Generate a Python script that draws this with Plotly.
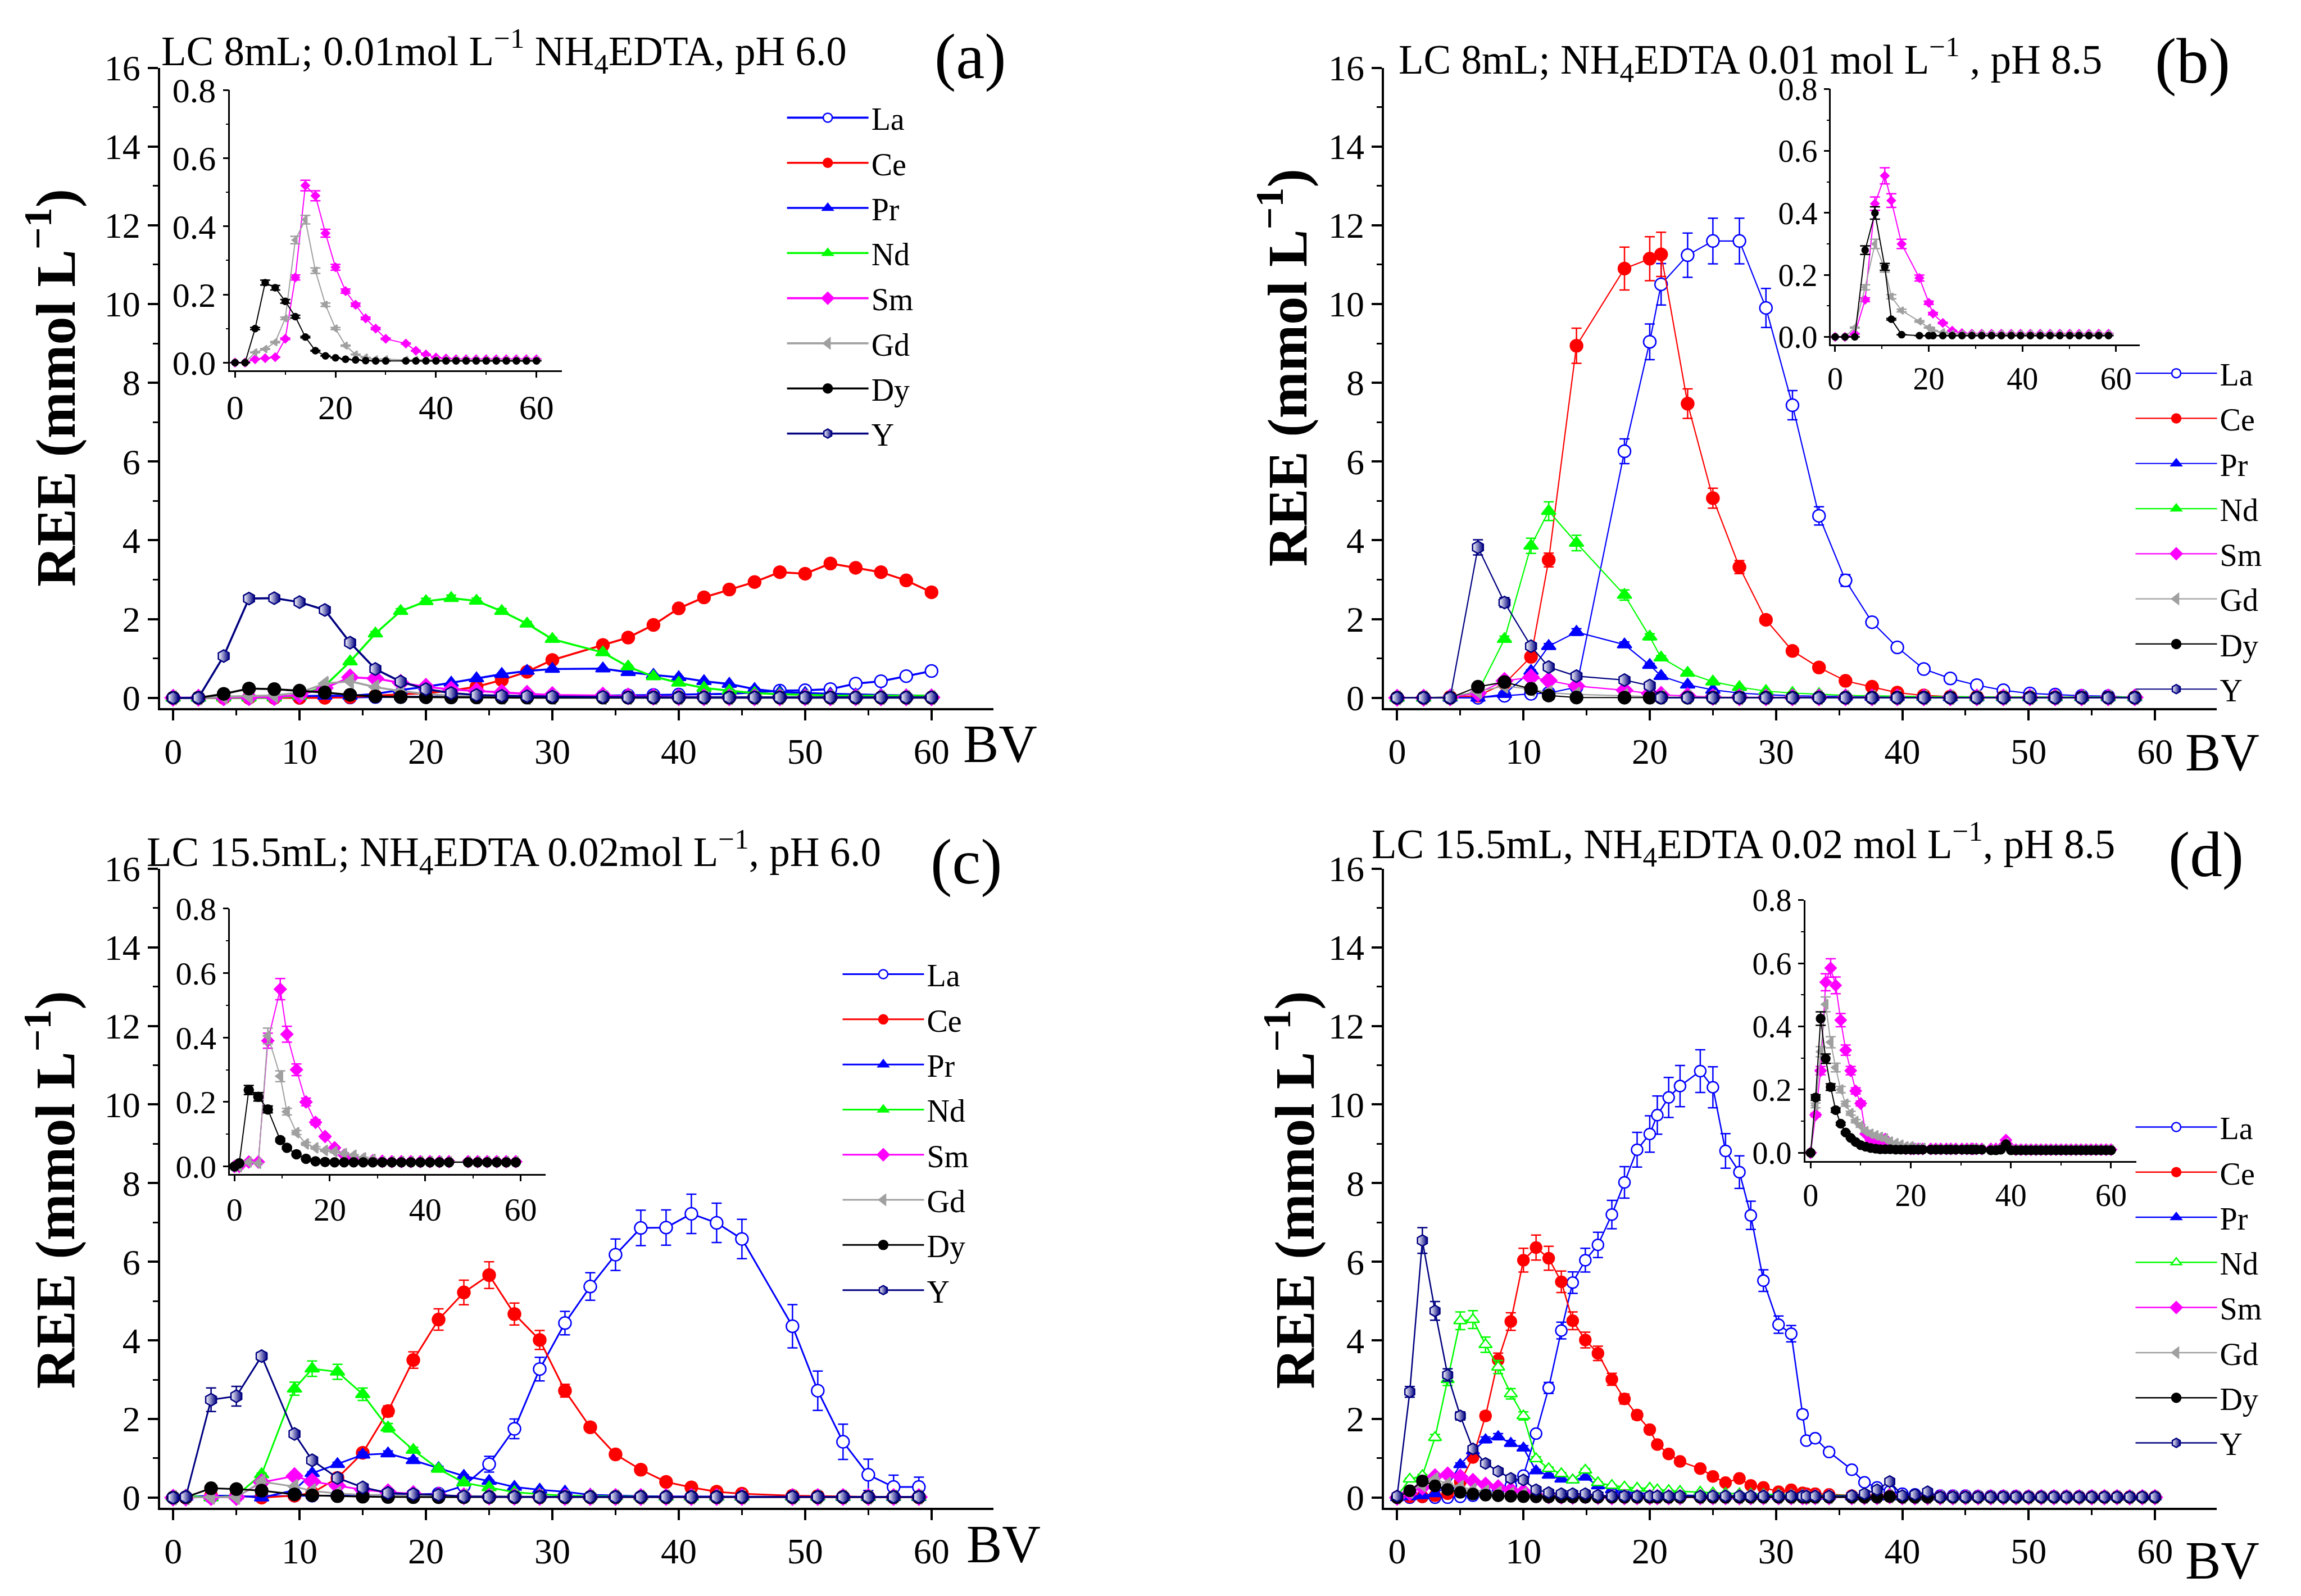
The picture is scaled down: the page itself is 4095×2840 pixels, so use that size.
import plotly.graph_objects as go

# ---------------- panel (a): LC 8 mL, 0.01 mol/L NH4EDTA, pH 6.0 ----------------
bv_a = [0, 2, 4, 6, 8, 10, 12, 14, 16, 18, 20, 22, 24, 26, 28, 30, 34, 36, 38, 40,
        42, 44, 46, 48, 50, 52, 54, 56, 58, 60]
la_a = [0, 0, 0, 0, 0, 0, 0.01, 0.01, 0.02, 0.02, 0.02, 0.03, 0.03, 0.03, 0.03, 0.04,
        0.05, 0.06, 0.07, 0.08, 0.09, 0.1, 0.14, 0.18, 0.19, 0.22, 0.36, 0.42, 0.55, 0.68]
ce_a = [0, 0, 0, 0, 0, 0, 0, 0.02, 0.05, 0.08, 0.12, 0.18, 0.28, 0.45, 0.66, 0.96,
        1.34, 1.53, 1.85, 2.27, 2.55, 2.75, 2.94, 3.19, 3.15, 3.41, 3.3, 3.19, 2.98, 2.68]
pr_a = [0, 0, 0.02, 0.03, 0.03, 0.04, 0.05, 0.05, 0.1, 0.2, 0.28, 0.38, 0.49, 0.6, 0.68, 0.73,
        0.74, 0.65, 0.58, 0.52, 0.42, 0.35, 0.22, 0.15, 0.12, 0.1, 0.08, 0.07, 0.06, 0.05]
nd_a = [0, 0, 0, 0, 0, 0.05, 0.3, 0.92, 1.63, 2.2, 2.45, 2.53, 2.46, 2.2, 1.88, 1.49,
        1.15, 0.79, 0.54, 0.38, 0.25, 0.18, 0.12, 0.09, 0.07, 0.06, 0.05, 0.05, 0.05, 0.05]
sm_a = [0, 0, 0.01, 0.013, 0.016, 0.07, 0.25, 0.52, 0.49, 0.38, 0.28, 0.21, 0.17, 0.13, 0.1, 0.07,
        0.056, 0.035, 0.024, 0.015, 0.012, 0.01, 0.01, 0.01, 0.01, 0.01, 0.01, 0.01, 0.01, 0.01]
gd_a = [0, 0, 0.03, 0.04, 0.06, 0.13, 0.36, 0.42, 0.27, 0.17, 0.1, 0.05, 0.024, 0.015, 0.01, 0.01,
        0.008, 0.008, 0.008, 0.008, 0.008, 0.008, 0.008, 0.008, 0.008, 0.008, 0.008, 0.008, 0.008, 0.008]
dy_a = [0, 0, 0.1, 0.235, 0.22, 0.18, 0.135, 0.075, 0.035, 0.02, 0.014, 0.01, 0.008, 0.006, 0.005, 0.005,
        0.005, 0.005, 0.005, 0.005, 0.005, 0.005, 0.005, 0.005, 0.005, 0.005, 0.005, 0.005, 0.005, 0.005]
y_a = [0, 0, 1.06, 2.52, 2.53, 2.43, 2.23, 1.4, 0.73, 0.41, 0.22, 0.12, 0.07, 0.05, 0.04, 0.03,
       0.02, 0.01, 0.01, 0.01, 0.01, 0.01, 0.01, 0.01, 0.01, 0.01, 0.01, 0.01, 0.01, 0.01]

# ---------------- panel (b): LC 8 mL, NH4EDTA 0.01 mol/L, pH 8.5 ----------------
bv_b = [0, 2.1, 4.2, 6.4, 8.5, 10.6, 12.0, 14.2, 18.0, 20.0, 20.9, 23.0, 25.0, 27.1, 29.2,
        31.3, 33.4, 35.5, 37.6, 39.6, 41.7, 43.8, 45.9, 48.0, 50.1, 52.1, 54.2, 56.3, 58.4]
la_b = [0, 0, 0, 0, 0.05, 0.1, 0.12, 0.27, 6.26, 9.04, 10.5, 11.24, 11.6, 11.6, 9.9,
        7.43, 4.62, 2.98, 1.92, 1.28, 0.73, 0.49, 0.32, 0.19, 0.11, 0.08, 0.05, 0.04, 0.01]
ce_b = [0, 0, 0.02, 0.05, 0.36, 1.04, 3.5, 8.94, 10.9, 11.15, 11.26, 7.47, 5.07, 3.32, 1.98,
        1.19, 0.77, 0.43, 0.28, 0.13, 0.06, 0.03, 0.02, 0.02, 0.01, 0.01, 0.01, 0.01, 0.01]
pr_b = [0, 0, 0, 0, 0.09, 0.68, 1.31, 1.67, 1.35, 0.83, 0.55, 0.33, 0.2, 0.12, 0.08,
        0.05, 0.04, 0.03, 0.02, 0.02, 0.02, 0.01, 0.01, 0.01, 0.01, 0.01, 0.01, 0.01, 0.01]
nd_b = [0, 0, 0.02, 0.15, 1.49, 3.86, 4.74, 3.93, 2.61, 1.55, 1.02, 0.63, 0.41, 0.27, 0.17,
        0.12, 0.09, 0.06, 0.05, 0.04, 0.03, 0.03, 0.02, 0.02, 0.02, 0.02, 0.02, 0.02, 0.02]
sm_b = [0, 0, 0.01, 0.12, 0.43, 0.52, 0.44, 0.3, 0.19, 0.11, 0.075, 0.045, 0.02, 0.012, 0.01,
        0.01, 0.01, 0.01, 0.01, 0.01, 0.01, 0.01, 0.01, 0.01, 0.01, 0.01, 0.01, 0.01, 0.01]
gd_b = [0, 0, 0.03, 0.16, 0.3, 0.22, 0.13, 0.085, 0.05, 0.03, 0.02, 0.015, 0.01, 0.01, 0.01,
        0.01, 0.01, 0.01, 0.01, 0.01, 0.01, 0.01, 0.01, 0.01, 0.01, 0.01, 0.01, 0.01, 0.01]
dy_b = [0, 0, 0, 0.28, 0.4, 0.226, 0.057, 0.007, 0.004, 0.004, 0.004, 0.004, 0.004, 0.004, 0.004,
        0.004, 0.004, 0.004, 0.004, 0.004, 0.004, 0.004, 0.004, 0.004, 0.004, 0.004, 0.004, 0.004, 0.004]
y_b = [0, 0, 0, 3.82, 2.42, 1.31, 0.78, 0.55, 0.45, 0.31, 0, 0, 0, 0, 0,
       0, 0, 0, 0, 0, 0, 0, 0, 0, 0, 0, 0, 0, 0]

# ---------------- panel (c): LC 15.5 mL, NH4EDTA 0.02 mol/L, pH 6.0 ----------------
bv_c = [0, 1, 3, 5, 7, 9.6, 11, 13, 15, 17, 19, 21, 23, 25, 27, 29, 31, 33, 35, 37,
        39, 41, 43, 45, 49, 51, 53, 55, 57, 59]
la_c = [0, 0, 0.02, 0.03, 0.03, 0.05, 0.05, 0.05, 0.06, 0.06, 0.08, 0.1, 0.3, 0.85, 1.75, 3.27,
        4.44, 5.37, 6.18, 6.86, 6.87, 7.22, 6.99, 6.58, 4.36, 2.72, 1.42, 0.58, 0.27, 0.27]
la_c_err = [0, 0, 0, 0, 0, 0, 0, 0, 0, 0, 0, 0, 0.05, 0.2, 0.25, 0.3,
            0.3, 0.35, 0.4, 0.45, 0.45, 0.5, 0.5, 0.5, 0.55, 0.5, 0.45, 0.4, 0.3, 0.25]
ce_c = [0, 0, 0.05, 0.05, 0, 0.05, 0.12, 0.5, 1.14, 2.2, 3.5, 4.53, 5.22, 5.66, 4.67, 4.01,
        2.72, 1.79, 1.1, 0.71, 0.4, 0.26, 0.15, 0.1, 0.05, 0.04, 0.02, 0.02, 0.01, 0.01]
pr_c = [0.02, 0.02, 0.05, 0.05, 0, 0.19, 0.62, 0.85, 1.09, 1.12, 0.95, 0.75, 0.55, 0.42, 0.27, 0.2,
        0.15, 0.07, 0.05, 0.04, 0.03, 0.03, 0.02, 0.02, 0.02, 0.02, 0.01, 0.01, 0.01, 0.01]
nd_c = [0.02, 0.05, 0, 0.05, 0.59, 2.77, 3.28, 3.2, 2.63, 1.78, 1.21, 0.73, 0.38, 0.26, 0.14, 0.09,
        0.05, 0.04, 0.03, 0.03, 0.02, 0.02, 0.02, 0.02, 0.02, 0.02, 0.02, 0.02, 0.02, 0.02]
sm_c = [0, 0, 0.014, 0.014, 0.39, 0.55, 0.41, 0.3, 0.2, 0.137, 0.093, 0.058, 0.035, 0.025, 0.02, 0.018,
        0.016, 0.015, 0.015, 0.015, 0.015, 0.015, 0.015, 0.015, 0.015, 0.015, 0.015, 0.015, 0.015, 0.015]
gd_c = [0, 0, 0.014, 0.01, 0.405, 0.28, 0.17, 0.105, 0.07, 0.058, 0.05, 0.046, 0.04, 0.035, 0.027, 0.022,
        0.015, 0.015, 0.015, 0.015, 0.015, 0.015, 0.015, 0.015, 0.015, 0.015, 0.015, 0.015, 0.015, 0.015]
dy_c = [0, 0.01, 0.237, 0.216, 0.177, 0.082, 0.058, 0.038, 0.024, 0.016, 0.014, 0.013, 0.013, 0.013, 0.013,
        0.013, 0.013, 0.013, 0.013, 0.013, 0.013, 0.013, 0.013, 0.013, 0.013, 0.013, 0.013, 0.013, 0.013, 0.013]
y_c = [0, 0.02, 2.49, 2.58, 3.6, 1.62, 0.95, 0.5, 0.26, 0.12, 0.09, 0.07, 0.03, 0.02, 0.02, 0.02,
       0.02, 0.02, 0.02, 0.02, 0.02, 0.02, 0.02, 0.02, 0.02, 0.02, 0.02, 0.02, 0.02, 0.02]
y_c_err = [0, 0, 0.3, 0.25, 0.1, 0.08, 0.08, 0.05, 0, 0, 0, 0, 0, 0, 0, 0,
           0, 0, 0, 0, 0, 0, 0, 0, 0, 0, 0, 0, 0, 0]

# ---------------- panel (d): LC 15.5 mL, NH4EDTA 0.02 mol/L, pH 8.5 ----------------
bv_d = [0, 1, 2, 3, 4, 5, 6, 7, 8, 9, 10, 11, 12, 13, 13.9, 14.9, 15.9, 17, 18, 19, 20,
        20.6, 21.5, 22.4, 24, 25, 26, 27.1, 28, 29, 30.2, 31.2, 32.1, 32.4, 33.1, 34.2,
        36, 37, 38, 39, 40, 41, 42, 43, 44, 45, 46, 47, 48, 49, 50, 51, 52, 53, 54, 55,
        56, 57, 58, 59, 60]
la_d = [0, 0, 0.02, 0, 0, 0.02, 0.05, 0.1, 0.2, 0.3, 0.56, 1.63, 2.79, 4.25, 5.47, 6.04, 6.43,
        7.2, 8.02, 8.85, 9.25, 9.73, 10.18, 10.47, 10.85, 10.44, 8.82, 8.28, 7.18, 5.52,
        4.4, 4.17, 2.12, 1.45, 1.51, 1.16, 0.71, 0.39, 0.26, 0.16, 0.1, 0.08, 0.06, 0.05,
        0.05, 0.05, 0.04, 0.04, 0.04, 0.04, 0.03, 0.03, 0.03, 0.03, 0.03, 0.03, 0.02, 0.02,
        0.02, 0.02, 0.02]
ce_d = [0.02, 0.02, 0.02, 0.05, 0.1, 0.4, 1.02, 2.08, 3.5, 4.48, 6.04, 6.36, 6.09, 5.49, 4.5,
        4.01, 3.67, 3.01, 2.51, 2.1, 1.73, 1.35, 1.11, 0.92, 0.74, 0.54, 0.38, 0.49, 0.31, 0.26,
        0.15, 0.2, 0.12, 0.1, 0.1, 0.08, 0.05, 0.04, 0.03, 0.03, 0.02, 0.02, 0.02, 0.02, 0.02,
        0.02, 0.02, 0.02, 0.02, 0.02, 0.02, 0.02, 0.02, 0.02, 0.02, 0.02, 0.02, 0.02, 0.02,
        0.02, 0.02]
pr_d = [0, 0.02, 0.05, 0.1, 0.3, 0.84, 1.19, 1.47, 1.55, 1.38, 1.26, 0.68, 0.57, 0.47, 0.45,
        0.52, 0.3, 0.2, 0.15, 0.12, 0.1, 0.08, 0.07, 0.06, 0.05, 0.05, 0.04, 0.04, 0.04, 0.03,
        0.03, 0.03, 0.03, 0.03, 0.03, 0.03, 0.02, 0.02, 0.02, 0.02, 0.02, 0.02, 0.02, 0.02,
        0.02, 0.02, 0.02, 0.02, 0.02, 0.02, 0.02, 0.02, 0.02, 0.02, 0.02, 0.02, 0.02, 0.02,
        0.02, 0.02, 0.02]
nd_d = [0.03, 0.47, 0.56, 1.53, 3.0, 4.5, 4.53, 3.89, 3.32, 2.64, 2.08, 0.99, 0.74, 0.61, 0.45,
        0.7, 0.38, 0.31, 0.27, 0.24, 0.24, 0.2, 0.18, 0.16, 0.14, 0.12, 0.11, 0.1, 0.09, 0.08,
        0.08, 0.07, 0.07, 0.06, 0.06, 0.06, 0.05, 0.05, 0.05, 0.1, 0.04, 0.04, 0.04, 0.04,
        0.04, 0.04, 0.04, 0.04, 0.04, 0.04, 0.04, 0.04, 0.04, 0.04, 0.04, 0.04, 0.04, 0.04,
        0.04, 0.04, 0.04]
sm_d = [0, 0.12, 0.26, 0.54, 0.585, 0.53, 0.42, 0.325, 0.26, 0.196, 0.156, 0.06, 0.04, 0.03,
        0.025, 0.043, 0.02, 0.015, 0.015, 0.013, 0.012, 0.012, 0.012, 0.012, 0.012, 0.012,
        0.012, 0.012, 0.012, 0.012, 0.012, 0.012, 0.012, 0.012, 0.012, 0.012, 0.012, 0.012,
        0.015, 0.04, 0.015, 0.01, 0.01, 0.01, 0.01, 0.01, 0.01, 0.01, 0.01, 0.01, 0.01, 0.01,
        0.01, 0.01, 0.01, 0.01, 0.01, 0.01, 0.01, 0.01, 0.01]
gd_d = [0, 0.15, 0.32, 0.47, 0.35, 0.27, 0.2, 0.155, 0.125, 0.1, 0.085, 0.068, 0.06, 0.055,
        0.05, 0.045, 0.035, 0.03, 0.025, 0.02, 0.02, 0.015, 0.015, 0.015, 0.012, 0.012, 0.012,
        0.012, 0.012, 0.012, 0.012, 0.012, 0.012, 0.012, 0.012, 0.012, 0.01, 0.01, 0.015, 0.03,
        0.01, 0.01, 0.01, 0.01, 0.01, 0.01, 0.01, 0.01, 0.01, 0.01, 0.01, 0.01, 0.01, 0.01,
        0.01, 0.01, 0.01, 0.01, 0.01, 0.01, 0.01]
dy_d = [0, 0.175, 0.425, 0.298, 0.208, 0.135, 0.092, 0.064, 0.047, 0.034, 0.024, 0.019, 0.015,
        0.013, 0.011, 0.011, 0.011, 0.01, 0.01, 0.01, 0.01, 0.01, 0.01, 0.01, 0.01, 0.01, 0.01,
        0.01, 0.01, 0.01, 0.01, 0.01, 0.01, 0.01, 0.01, 0.01, 0.008, 0.008, 0.01, 0.027, 0.008,
        0.008, 0.008, 0.008, 0.008, 0.008, 0.008, 0.008, 0.008, 0.008, 0.008, 0.008, 0.008,
        0.008, 0.008, 0.008, 0.008, 0.008, 0.008, 0.008, 0.008]
y_d = [0.04, 2.69, 6.54, 4.75, 3.12, 2.08, 1.24, 0.87, 0.67, 0.49, 0.45, 0.2, 0.13, 0.1, 0.1,
       0.1, 0.06, 0.04, 0.04, 0.04, 0.04, 0.04, 0.04, 0.04, 0.04, 0.04, 0.04, 0.04, 0.04, 0.04,
       0.04, 0.04, 0.04, 0.04, 0.04, 0.04, 0.05, 0.1, 0.2, 0.41, 0.05, 0.08, 0.15, 0.02, 0.02,
       0.02, 0.02, 0.02, 0.02, 0.02, 0.02, 0.02, 0.02, 0.02, 0.02, 0.02, 0.02, 0.02, 0.02,
       0.02, 0.02]

FONT = "Liberation Serif"
W, H = 4095, 2840
X_OFF = 8                     # default body margin of the html page
Y_SCALE, Y_OFF = 1.0192, -45.3  # vertical correction found by comparing renders
NAVY = "#000080"

# marker / colour per element: (line colour, symbol, fill)
STYLE = {
    "La": ("#0000FF", "circle", "white"),
    "Ce": ("#FF0000", "circle", "#FF0000"),
    "Pr": ("#0000FF", "triangle-up", "#0000FF"),
    "Nd": ("#00FF00", "triangle-up", "#00FF00"),
    "Sm": ("#FF00FF", "diamond", "#FF00FF"),
    "Gd": ("#A0A0A0", "triangle-left", "#A0A0A0"),
    "Dy": ("#000000", "circle", "#000000"),
    "Y": (NAVY, "hexagon", "white"),
}


def px_x(p):
    return (p - X_OFF) / W


def px_y(p):
    return 1 - (Y_SCALE * p + Y_OFF) / H


def make_trace(name, bv, vals, xa, ya, lw, ms, err, legend=None, nd_open=False, show=True):
    col, sym, fill = STYLE[name]
    if name == "Nd" and nd_open:
        fill = "white"
    marker = dict(symbol=sym, size=ms, color=fill, line=dict(color=col, width=2.5))
    if name == "Y":
        marker["gradient"] = dict(type="horizontal", color=NAVY)
    if isinstance(err, list):
        ey = dict(type="data", array=err, color=col, thickness=2.5, width=9)
    else:
        ey = dict(type="percent", value=err, color=col, thickness=2.5, width=9)
    tr = go.Scatter(x=bv, y=vals, mode="lines+markers", name=name,
                    line=dict(color=col, width=lw), marker=marker, error_y=ey,
                    xaxis=xa, yaxis=ya, showlegend=show, cliponaxis=False)
    if show:
        tr.update(legend=legend, legendgroup=legend + name)
    return tr


fig = go.Figure()

panels = [
    # bv, series, line width, marker size, inset marker size, error %, explicit errors, open Nd
    (bv_a, {"La": la_a, "Ce": ce_a, "Pr": pr_a, "Nd": nd_a, "Sm": sm_a, "Gd": gd_a, "Dy": dy_a, "Y": y_a},
     3.6, 22, 11, 3, {}, False),
    (bv_b, {"La": la_b, "Ce": ce_b, "Pr": pr_b, "Nd": nd_b, "Sm": sm_b, "Gd": gd_b, "Dy": dy_b, "Y": y_b},
     2.2, 22, 11, 5, {}, False),
    (bv_c, {"La": la_c, "Ce": ce_c, "Pr": pr_c, "Nd": nd_c, "Sm": sm_c, "Gd": gd_c, "Dy": dy_c, "Y": y_c},
     3, 22, 16, 6, {"La": la_c_err, "Y": y_c_err}, False),
    (bv_d, {"La": la_d, "Ce": ce_d, "Pr": pr_d, "Nd": nd_d, "Sm": sm_d, "Gd": gd_d, "Dy": dy_d, "Y": y_d},
     2.5, 20, 15, 5, {}, True),
]
legend_names = ["legend", "legend2", "legend3", "legend4"]

for k, (bv, series, lw, ms, ims, err, errs, nd_open) in enumerate(panels):
    mi, ii = 2 * k + 1, 2 * k + 2
    mx = "x" if mi == 1 else "x%d" % mi
    my = "y" if mi == 1 else "y%d" % mi
    for name, vals in series.items():
        fig.add_trace(make_trace(name, bv, vals, mx, my, lw, ms, errs.get(name, err),
                                 legend=legend_names[k], nd_open=nd_open))
    for name in ["Sm", "Gd", "Dy"]:
        fig.add_trace(make_trace(name, bv, series[name], "x%d" % ii, "y%d" % ii,
                                 2, ims, err, show=False))

# ---------------- axes (pixel boxes measured on the reference) ----------------
col_x = [(278, 1764), (2460, 3945)]
row_y = [(1262, 122), (2686, 1548)]
inset_box = [  # left, right, bottom, top, x range, y bottom, tick font
    (403, 995, 661, 162, [-1.0, 65.1], -0.023, 62),
    (3257, 3807, 615, 160, [-0.9, 65.0], -0.025, 56),
    (403, 966, 2092, 1619, [-0.94, 65.3], -0.024, 58),
    (3211, 3801, 2069, 1604, [-1.1, 65.0], -0.027, 56),
]

axis_common = dict(showline=True, linecolor="black", showgrid=False, zeroline=False,
                   ticks="outside", tickcolor="black", mirror=False,
                   tickfont=dict(family=FONT, size=64, color="black"))

for k in range(4):
    mi, ii = 2 * k + 1, 2 * k + 2
    cx = col_x[k % 2]
    ry = row_y[k // 2]
    xname = "xaxis" if mi == 1 else "xaxis%d" % mi
    yname = "yaxis" if mi == 1 else "yaxis%d" % mi
    fig.update_layout({
        xname: dict(axis_common, domain=[px_x(cx[0]), px_x(cx[1])], range=[-1.05, 64.9],
                    anchor="y" if mi == 1 else "y%d" % mi, tickmode="linear", tick0=0, dtick=10,
                    linewidth=4, ticklen=18, tickwidth=3.5,
                    minor=dict(ticks="outside", ticklen=9, tickwidth=3, dtick=5, tick0=0,
                               tickcolor="black", showgrid=False)),
        yname: dict(axis_common, domain=[px_y(ry[0]), px_y(ry[1])], range=[-0.26, 16],
                    anchor="x" if mi == 1 else "x%d" % mi, tickmode="linear", tick0=0, dtick=2,
                    linewidth=4, ticklen=18, tickwidth=3.5,
                    minor=dict(ticks="outside", ticklen=9, tickwidth=3, dtick=1, tick0=0,
                               tickcolor="black", showgrid=False)),
    })
    l, r, b, t, xr, yb, tf = inset_box[k]
    fig.update_layout({
        "xaxis%d" % ii: dict(axis_common, domain=[px_x(l), px_x(r)], range=xr,
                             anchor="y%d" % ii, tickmode="linear", tick0=0, dtick=20,
                             linewidth=2.5, ticklen=10, tickwidth=2.5,
                             tickfont=dict(family=FONT, size=tf, color="black"),
                             minor=dict(ticks="outside", ticklen=5, tickwidth=2, dtick=10, tick0=0,
                                        tickcolor="black", showgrid=False)),
        "yaxis%d" % ii: dict(axis_common, domain=[px_y(b), px_y(t)], range=[yb, 0.8],
                             anchor="x%d" % ii, tickmode="linear", tick0=0, dtick=0.2,
                             tickformat=".1f", linewidth=2.5, ticklen=10, tickwidth=2.5,
                             tickfont=dict(family=FONT, size=tf, color="black"),
                             minor=dict(ticks="outside", ticklen=5, tickwidth=2, dtick=0.1, tick0=0,
                                        tickcolor="black", showgrid=False)),
    })

# ---------------- legends ----------------
legend_pos = [(1391, 168), (3795, 623), (1490, 1693), (3795, 1965)]
for k, (lx, ly) in enumerate(legend_pos):
    fig.update_layout({legend_names[k]: dict(
        x=px_x(lx), y=px_y(ly), xanchor="left", yanchor="top",
        bgcolor="rgba(0,0,0,0)", borderwidth=0,
        font=dict(family=FONT, size=56, color="black"),
        itemwidth=145, itemsizing="trace", traceorder="grouped", tracegroupgap=4.5)})

# ---------------- texts ----------------
M = "\u2212"
titles = [
    ("LC 8mL; 0.01mol L<sup>%s1</sup> NH<sub>4</sub>EDTA, pH 6.0" % M, 892, 92),
    ("LC 8mL; NH<sub>4</sub>EDTA 0.01 mol L<sup>%s1</sup> , pH 8.5" % M, 3113, 107),
    ("LC 15.5mL; NH<sub>4</sub>EDTA 0.02mol L<sup>%s1</sup>, pH 6.0" % M, 909, 1518),
    ("LC 15.5mL, NH<sub>4</sub>EDTA 0.02 mol L<sup>%s1</sup>, pH 8.5" % M, 3101, 1504),
]
labels = [("(a)", 1723, 102), ("(b)", 3902, 110), ("(c)", 1716, 1536), ("(d)", 3926, 1523)]
bvs = [(1776, 1326), (3955, 1341), (1782, 2751), (3955, 2780)]
ytitles = [(85, 692), (2281, 656), (85, 2120), (2294, 2120)]

ann = []
for txt, x, y in titles:
    ann.append(dict(text=txt, x=px_x(x), y=px_y(y), xref="paper", yref="paper",
                    xanchor="center", yanchor="middle", showarrow=False,
                    font=dict(family=FONT, size=73, color="black")))
for txt, x, y in labels:
    ann.append(dict(text=txt, x=px_x(x), y=px_y(y), xref="paper", yref="paper",
                    xanchor="center", yanchor="middle", showarrow=False,
                    font=dict(family=FONT, size=115, color="black")))
for x, y in bvs:
    ann.append(dict(text="BV", x=px_x(x), y=px_y(y), xref="paper", yref="paper",
                    xanchor="center", yanchor="middle", showarrow=False,
                    font=dict(family=FONT, size=95, color="black")))
for x, y in ytitles:
    ann.append(dict(text="<b>REE (mmol L<sup>%s1</sup>)</b>" % M, x=px_x(x), y=px_y(y),
                    xref="paper", yref="paper", xanchor="center", yanchor="middle",
                    textangle=-90, showarrow=False,
                    font=dict(family=FONT, size=100, color="black")))

fig.update_layout(
    width=W, height=H,
    margin=dict(l=0, r=0, t=0, b=0),
    paper_bgcolor="white", plot_bgcolor="rgba(0,0,0,0)",
    annotations=ann,
)

fig.write_html("out.html")
